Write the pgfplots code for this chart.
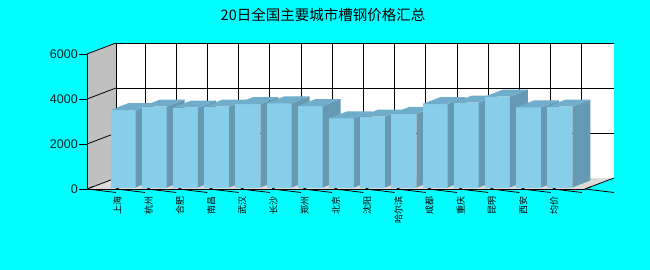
\documentclass[border=0pt]{standalone}
\usepackage{fontspec}
\setmainfont{Liberation Sans}
\newfontfamily\cjk{Noto Sans CJK SC}
\usepackage{pgfplots}
\usepackage{pgfplotstable}
\pgfplotsset{compat=1.18}
\definecolor{bg}{HTML}{00FFFF}
\definecolor{barfront}{HTML}{87CEEB}
\definecolor{bartop}{HTML}{70ADCA}
\definecolor{barside}{HTML}{6699B3}
\definecolor{wallgrey}{HTML}{C0C0C0}
\definecolor{floorgrey}{HTML}{DCDCDC}
\definecolor{ylab}{HTML}{002424}

\pgfplotstableread{
k v
0 3440
1 3590
2 3550
3 3590
4 3710
5 3740
6 3620
7 3070
8 3150
9 3270
10 3710
11 3770
12 4040
13 3560
14 3590
}\prices

\pgfdeclareplotmark{bar3d}{%
  \pgfmathsetmacro\hh{\ry*0.0225}%
  % front face
  \pgfpathrectanglecorners{\pgfpoint{-5.5pt}{1.5pt-\hh pt}}{\pgfpoint{19.5pt}{1.5pt}}%
  \pgfsetfillcolor{barfront}\pgfusepath{fill}%
  % side face
  \pgfpathmoveto{\pgfpoint{19.5pt}{1.5pt}}%
  \pgfpathlineto{\pgfpoint{37.5pt}{8.5pt}}%
  \pgfpathlineto{\pgfpoint{37.5pt}{8.5pt-\hh pt}}%
  \pgfpathlineto{\pgfpoint{19.5pt}{1.5pt-\hh pt}}%
  \pgfpathclose
  \pgfsetfillcolor{barside}\pgfusepath{fill}%
  % top face
  \pgfpathmoveto{\pgfpoint{-5.5pt}{1.5pt}}%
  \pgfpathlineto{\pgfpoint{19.5pt}{1.5pt}}%
  \pgfpathlineto{\pgfpoint{37.5pt}{8.5pt}}%
  \pgfpathlineto{\pgfpoint{12.5pt}{8.5pt}}%
  \pgfpathclose
  \pgfsetfillcolor{bartop}\pgfusepath{fill}%
}

\begin{document}
\begin{tikzpicture}[x=1pt,y=1pt]
\fill[bg] (0,0) rectangle (650,270);
\node[font=\cjk\fontsize{14.5}{15}\selectfont, inner sep=0pt] at (323,255) {20日全国主要城市槽钢价格汇总};
\begin{axis}[
  at={(87pt,81pt)}, anchor=south west,
  x=31.2pt, y=0.0225pt,
  xmin=-0.93, xmax=15.03, ymin=0, ymax=6000,
  clip=false,
  axis line style={draw=none},
  xtick={0,1,2,3,4,5,6,7,8,9,10,11,12,13,14},
  xticklabels={上海,杭州,合肥,南昌,武汉,长沙,郑州,北京,沈阳,哈尔滨,成都,重庆,昆明,西安,均价},
  xtick style={draw=none},
  xticklabel style={rotate=90, anchor=east, font=\cjk\fontsize{9}{9}\selectfont, inner sep=0pt, yshift=-1.5pt},
  ytick={0,2000,4000,6000},
  ytick pos=left,
  xtick pos=bottom,
  tick align=outside,
  major tick length=7.5pt,
  ytick style={black, line width=0.8pt},
  yticklabel style={font=\fontsize{12.5}{13}\selectfont, text=ylab, anchor=east, inner sep=0pt, xshift=-1.5pt},
  /pgf/number format/assume math mode=true,
  /pgf/number format/.cd, 1000 sep={},
]
% left wall
\fill[wallgrey] (rel axis cs:0,0) -- (rel axis cs:0,1) -- ([shift={(29pt,11pt)}]rel axis cs:0,1) -- ([shift={(29pt,11pt)}]rel axis cs:0,0) -- cycle;
% floor
\fill[floorgrey] (rel axis cs:0,0) -- (rel axis cs:1,0) -- ([shift={(29pt,11pt)}]rel axis cs:1,0) -- ([shift={(29pt,11pt)}]rel axis cs:0,0) -- cycle;
% back wall
\fill[white] ([shift={(29pt,11pt)}]rel axis cs:0,0) rectangle ([shift={(29pt,11pt)}]rel axis cs:1,1);
% back wall grid
\draw[black, line width=0.8pt] ([shift={(29pt,11pt)}]rel axis cs:0,1/3) -- ([shift={(29pt,11pt)}]rel axis cs:1,1/3);
\draw[black, line width=0.8pt] ([shift={(29pt,11pt)}]rel axis cs:0,2/3) -- ([shift={(29pt,11pt)}]rel axis cs:1,2/3);
\draw[black, line width=0.8pt] ([shift={(29pt,11pt)}]rel axis cs:0,1) -- ([shift={(29pt,11pt)}]rel axis cs:1,1);
\draw[black, line width=0.8pt] ([shift={(29pt,11pt)}]rel axis cs:0,0) -- ([shift={(29pt,11pt)}]rel axis cs:0,1);
\pgfplotsinvokeforeach{0,1,2,3,4,5,6,7,8,9,10,11,12,13,14}{
  \draw[black, line width=0.8pt] ([shift={(29pt,11pt)}]axis cs:#1,0) -- ([shift={(29pt,11pt)}]axis cs:#1,6000);
}
% left wall diagonals
\pgfplotsinvokeforeach{0,1/3,2/3,1}{
  \draw[black, line width=0.8pt] (rel axis cs:0,#1) -- ([shift={(29pt,11pt)}]rel axis cs:0,#1);
}
% floor right edge
\draw[black, line width=0.8pt] (rel axis cs:1,0) -- ([shift={(29pt,11pt)}]rel axis cs:1,0);
% bars
\addplot[only marks, mark=bar3d, visualization depends on={rawy \as \ry}] table[x=k, y=v] {\prices};
% front edges
\draw[black, line width=0.8pt] (rel axis cs:0,0) -- (rel axis cs:1,0);
\draw[black, line width=0.8pt] (rel axis cs:0,0) -- (rel axis cs:0,1);
% x ticks and floor diagonals
\pgfplotsinvokeforeach{-0.93,0,1,2,3,4,5,6,7,8,9,10,11,12,13,14,15.03}{
  \draw[black, line width=0.8pt] (axis cs:#1,0) -- ++(0,-3.5pt);
  \draw[black, line width=0.8pt] (axis cs:#1,0) -- ++(6pt,2.3pt);
}
\end{axis}
\end{tikzpicture}
\end{document}
